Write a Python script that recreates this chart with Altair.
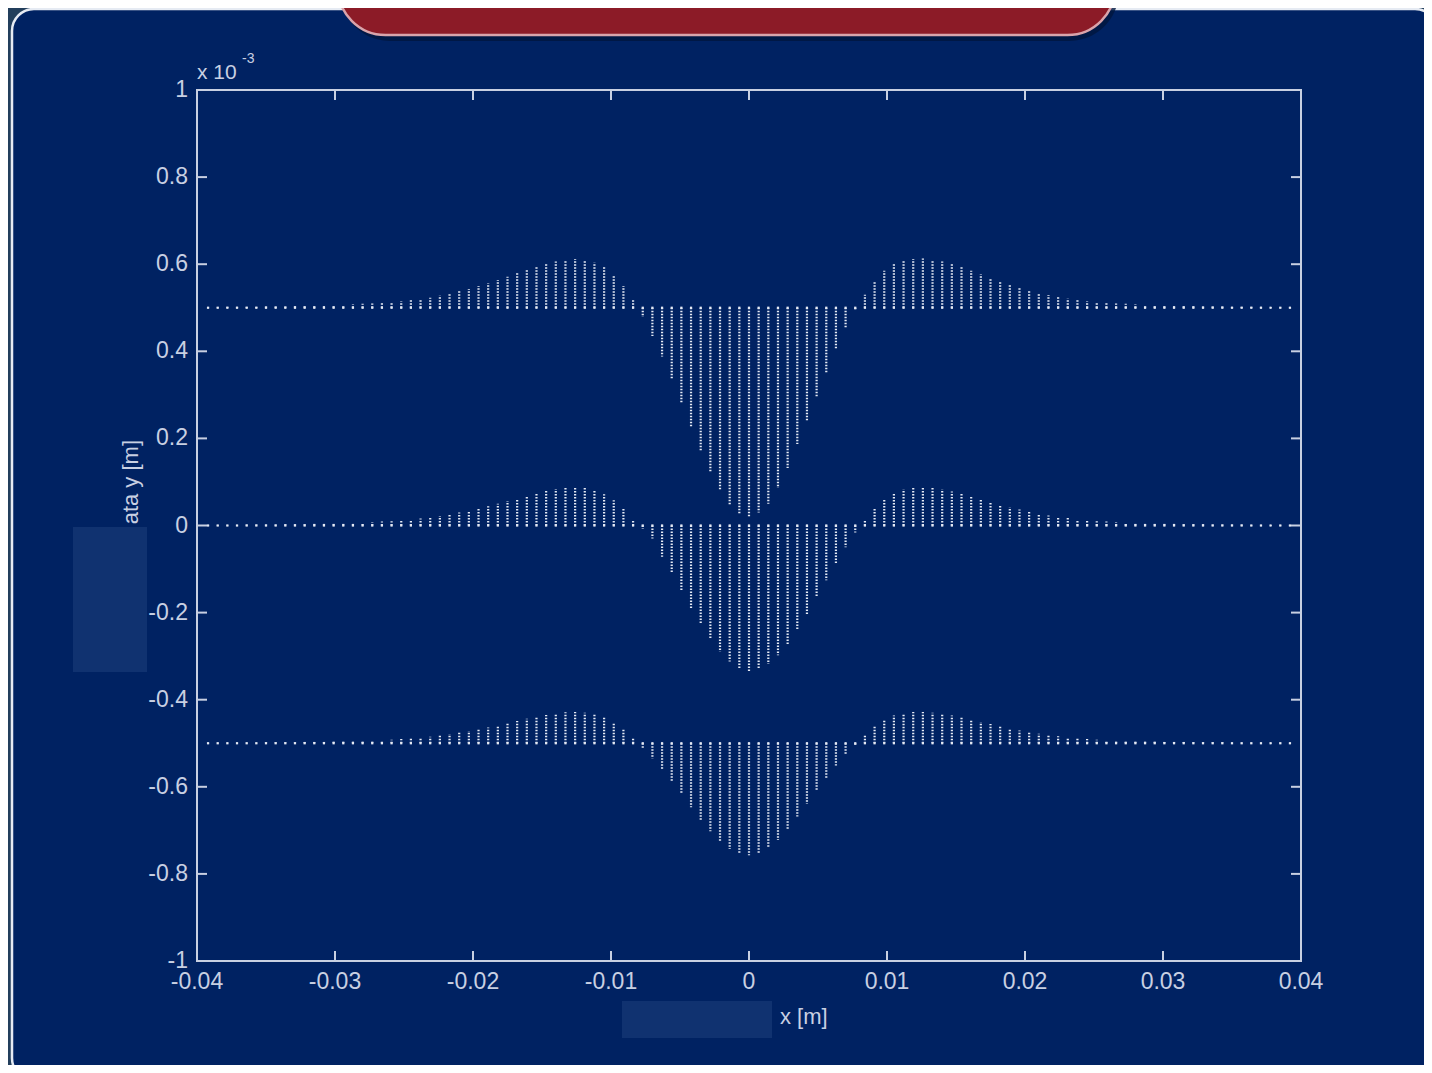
import altair as alt
import pandas as pd

# ---------------- data (displacement, units of 1e-3 m) ----------------
STEP = 0.0007
K = list(range(-56, 57))
x_pos = [round(k * STEP, 5) for k in K]

x_ticks = [-0.04, -0.03, -0.02, -0.01, 0.0, 0.01, 0.02, 0.03, 0.04]
x_labels = ["-0.04", "-0.03", "-0.02", "-0.01", "0", "0.01", "0.02", "0.03", "0.04"]
y_ticks = [-1.0, -0.8, -0.6, -0.4, -0.2, 0.0, 0.2, 0.4, 0.6, 0.8, 1.0]
y_labels = ["-1", "-0.8", "-0.6", "-0.4", "-0.2", "0", "0.2", "0.4", "0.6", "0.8", "1"]

row_base = [0.5, 0.0, -0.5]

top_left = [0.001, 0.001, 0.002, 0.002, 0.002, 0.002, 0.003, 0.003, 0.003, 0.004,
            0.004, 0.005, 0.005, 0.006, 0.007, 0.008, 0.009, 0.010, 0.011, 0.013,
            0.015, 0.018, 0.020, 0.023, 0.028, 0.032, 0.038, 0.043, 0.050, 0.056,
            0.064, 0.071, 0.079, 0.088, 0.095, 0.101, 0.106, 0.110, 0.112, 0.110,
            0.104, 0.093, 0.076, 0.050, 0.018, -0.021, -0.065, -0.112, -0.165, -0.219,
            -0.274, -0.328, -0.377, -0.420, -0.453, -0.473]
top_center = [-0.480]
top_right = [-0.470, -0.450, -0.414, -0.368, -0.313, -0.259, -0.205, -0.150, -0.095, -0.048,
             -0.006, 0.030, 0.062, 0.085, 0.100, 0.108, 0.112, 0.113, 0.110, 0.106,
             0.100, 0.093, 0.085, 0.077, 0.069, 0.061, 0.053, 0.046, 0.040, 0.034,
             0.029, 0.025, 0.021, 0.018, 0.015, 0.013, 0.011, 0.010, 0.009, 0.008,
             0.007, 0.006, 0.005, 0.005, 0.004, 0.004, 0.003, 0.003, 0.003, 0.002,
             0.002, 0.002, 0.002, 0.001, 0.001, 0.001]

mid_left = [0.001, 0.001, 0.001, 0.001, 0.002, 0.002, 0.002, 0.002, 0.003, 0.003,
            0.003, 0.004, 0.004, 0.005, 0.005, 0.006, 0.007, 0.008, 0.009, 0.010,
            0.012, 0.014, 0.016, 0.019, 0.022, 0.026, 0.030, 0.034, 0.039, 0.044,
            0.050, 0.056, 0.062, 0.069, 0.075, 0.080, 0.084, 0.087, 0.088, 0.086,
            0.081, 0.072, 0.058, 0.038, 0.014, -0.008, -0.030, -0.072, -0.110, -0.148,
            -0.190, -0.226, -0.262, -0.290, -0.312, -0.328]
mid_center = [-0.336]
mid_right = [-0.330, -0.318, -0.298, -0.272, -0.240, -0.204, -0.165, -0.126, -0.088, -0.050,
             -0.016, 0.012, 0.040, 0.060, 0.074, 0.083, 0.087, 0.088, 0.086, 0.083,
             0.078, 0.073, 0.067, 0.061, 0.055, 0.048, 0.042, 0.037, 0.032, 0.027,
             0.023, 0.020, 0.017, 0.014, 0.012, 0.010, 0.009, 0.008, 0.007, 0.006,
             0.005, 0.005, 0.004, 0.004, 0.003, 0.003, 0.003, 0.002, 0.002, 0.002,
             0.002, 0.001, 0.001, 0.001, 0.001, 0.001]

bot_left = [0.001, 0.001, 0.001, 0.001, 0.001, 0.001, 0.002, 0.002, 0.002, 0.002,
            0.003, 0.003, 0.003, 0.004, 0.004, 0.005, 0.006, 0.006, 0.007, 0.008,
            0.010, 0.012, 0.013, 0.015, 0.018, 0.021, 0.024, 0.028, 0.032, 0.036,
            0.041, 0.046, 0.051, 0.056, 0.061, 0.065, 0.068, 0.071, 0.072, 0.070,
            0.066, 0.059, 0.048, 0.032, 0.012, -0.011, -0.035, -0.060, -0.088, -0.117,
            -0.147, -0.176, -0.202, -0.225, -0.243, -0.253]
bot_center = [-0.257]
bot_right = [-0.252, -0.241, -0.222, -0.197, -0.168, -0.139, -0.110, -0.080, -0.051, -0.026,
             -0.004, 0.019, 0.040, 0.055, 0.064, 0.069, 0.072, 0.072, 0.070, 0.068,
             0.064, 0.060, 0.054, 0.049, 0.044, 0.039, 0.034, 0.029, 0.026, 0.022,
             0.019, 0.016, 0.013, 0.012, 0.010, 0.008, 0.007, 0.006, 0.006, 0.005,
             0.004, 0.004, 0.003, 0.003, 0.003, 0.002, 0.002, 0.002, 0.002, 0.001,
             0.001, 0.001, 0.001, 0.001, 0.001, 0.001]

rows = [top_left + top_center + top_right,
        mid_left + mid_center + mid_right,
        bot_left + bot_center + bot_right]

recs = []
for b, vals in zip(row_base, rows):
    for xv, d in zip(x_pos, vals):
        recs.append({"x": xv, "base": b, "tip": b + d})
df = pd.DataFrame(recs)

# ---------------- styling ----------------
BG_OUT = "#233f5c"
PANEL = "#002262"
STEM = "#e4e9f4"
AXIS = "#c8d0e2"
BOX = "#103270"
TAB = "#8c1b27"
TAB_EDGE = "#d9a4ab"
FONT = "Liberation Sans"

W, H = 1104, 871
xs = alt.Scale(domain=[-0.04, 0.04], nice=False, zero=False)
ys = alt.Scale(domain=[-1, 1], nice=False, zero=False)

one = alt.Chart(pd.DataFrame({"a": [0]}))

panel = one.mark_rect(cornerRadius=22, fill=PANEL, stroke="#e6ebf3", strokeWidth=2.5).encode(
    x=alt.value(-185), x2=alt.value(1240), y=alt.value(-81), y2=alt.value(990))
tab_shadow = one.mark_rect(cornerRadiusBottomLeft=50, cornerRadiusBottomRight=50,
                           fill="#00163f", opacity=0.8).encode(
    x=alt.value(143), x2=alt.value(922), y=alt.value(-150), y2=alt.value(-49))
tab = one.mark_rect(cornerRadiusBottomLeft=50, cornerRadiusBottomRight=50,
                    fill=TAB, stroke=TAB_EDGE, strokeWidth=2.5).encode(
    x=alt.value(141), x2=alt.value(918), y=alt.value(-150), y2=alt.value(-55))
frame = one.mark_rect(fillOpacity=0, stroke=AXIS, strokeWidth=2).encode(
    x=alt.value(0), x2=alt.value(W), y=alt.value(0), y2=alt.value(H))

xt = pd.DataFrame({"t": x_ticks, "lab": x_labels})
yt = pd.DataFrame({"t": y_ticks, "lab": y_labels})
tick_kw = dict(color=AXIS, strokeWidth=2)
xtick_b = alt.Chart(xt).mark_rule(**tick_kw).encode(
    x=alt.X("t:Q", scale=xs, axis=None), y=alt.value(H), y2=alt.value(H - 10))
xtick_t = alt.Chart(xt).mark_rule(**tick_kw).encode(
    x=alt.X("t:Q", scale=xs, axis=None), y=alt.value(0), y2=alt.value(10))
ytick_l = alt.Chart(yt).mark_rule(**tick_kw).encode(
    y=alt.Y("t:Q", scale=ys, axis=None), x=alt.value(0), x2=alt.value(10))
ytick_r = alt.Chart(yt).mark_rule(**tick_kw).encode(
    y=alt.Y("t:Q", scale=ys, axis=None), x=alt.value(W), x2=alt.value(W - 10))

xlab = alt.Chart(xt).mark_text(font=FONT, fontSize=23, color=AXIS, align="center", baseline="top").encode(
    x=alt.X("t:Q", scale=xs, axis=None), y=alt.value(H + 10), text="lab:N")
ylab = alt.Chart(yt).mark_text(font=FONT, fontSize=23, color=AXIS, align="right", baseline="middle").encode(
    y=alt.Y("t:Q", scale=ys, axis=None), x=alt.value(-9), text="lab:N")

stems = alt.Chart(df).mark_rule(color=STEM, strokeWidth=2.2, strokeDash=[1.6, 1.4]).encode(
    x=alt.X("x:Q", scale=xs, axis=None),
    y=alt.Y("base:Q", scale=ys, axis=None),
    y2="tip:Q")
dots = alt.Chart(df).mark_square(size=5, color=STEM, opacity=1).encode(
    x=alt.X("x:Q", scale=xs, axis=None), y=alt.Y("base:Q", scale=ys, axis=None))

exp_txt = one.mark_text(font=FONT, fontSize=21, color=AXIS, align="left", baseline="alphabetic").encode(
    x=alt.value(0), y=alt.value(-11), text=alt.value("x 10"))
exp_sup = one.mark_text(font=FONT, fontSize=14, color=AXIS, align="left", baseline="alphabetic").encode(
    x=alt.value(45), y=alt.value(-27), text=alt.value("-3"))
ytitle = one.mark_text(font=FONT, fontSize=22, color=AXIS, align="right", baseline="middle", angle=270).encode(
    x=alt.value(-66), y=alt.value(350), text=alt.value("ata y [m]"))
xtitle = one.mark_text(font=FONT, fontSize=22, color=AXIS, align="left", baseline="middle").encode(
    x=alt.value(583), y=alt.value(927), text=alt.value("x [m]"))
box1 = one.mark_rect(fill=BOX).encode(
    x=alt.value(-124), x2=alt.value(-50), y=alt.value(437), y2=alt.value(582))
box2 = one.mark_rect(fill=BOX).encode(
    x=alt.value(425), x2=alt.value(575), y=alt.value(911), y2=alt.value(948))

chart = alt.layer(
    panel, tab_shadow, tab, frame, xtick_b, xtick_t, ytick_l, ytick_r,
    stems, dots, xlab, ylab, exp_txt, exp_sup, ytitle, xtitle, box1, box2
).properties(
    width=W, height=H,
    autosize=alt.AutoSizeParams(type="none"),
    padding={"left": 189, "top": 82, "right": 123, "bottom": 104},
    background=BG_OUT,
).configure_view(
    stroke="transparent"
)

chart.save("out.html", embed_options={"renderer": "svg", "actions": False})
